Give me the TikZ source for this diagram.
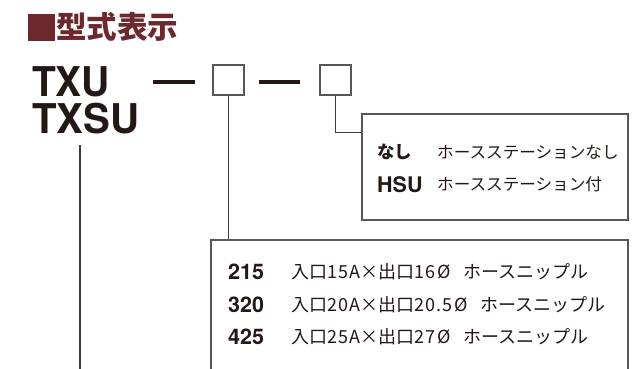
\documentclass[tikz,border=0pt]{standalone}
\usepackage{fontspec}
\usetikzlibrary{calc}
\newfontfamily\jp{Noto Sans CJK JP}
\newfontfamily\jpnum{Noto Sans CJK JP}[LetterSpace=6]
\newfontfamily\heros{TeX Gyre Heros}
\definecolor{titlered}{RGB}{108,40,45}
\definecolor{ink}{RGB}{35,24,21}
\definecolor{frame}{RGB}{90,85,86}
\newcommand{\nm}[1]{{\jpnum #1}}
\newcommand{\fw}[1]{\makebox[1em]{#1}}
\tikzset{
  sbox/.style={draw=frame, line width=1.3pt, minimum width=31pt, minimum height=30pt, inner sep=0pt},
  panel/.style={draw=frame, line width=1.2pt, inner sep=0pt},
  conn/.style={draw=ink!85!white, line width=1.5pt},
  dashbar/.style={draw=ink, line width=4pt},
  big/.style={anchor=base west, inner sep=0pt, text=ink, font=\heros\bfseries\fontsize{41}{37}\selectfont},
  code/.style={anchor=base west, inner sep=0pt, text=ink, font=\heros\bfseries\fontsize{21.5}{22}\selectfont},
  jcode/.style={anchor=base west, inner sep=0pt, text=ink, font=\jp\bfseries\fontsize{17.5}{18}\selectfont},
  desc/.style={anchor=base west, inner sep=0pt, text=ink, font=\jp\fontsize{16.6}{17}\selectfont},
  desc2/.style={anchor=base west, inner sep=0pt, text=ink, font=\jp\fontsize{18}{18}\selectfont},
}
\begin{document}
\begin{tikzpicture}[x=1pt,y=-1pt]
\useasboundingbox (0,0) rectangle (642,368);
\clip (0,0) rectangle (642,368);
% title
\fill[titlered] (28,14) rectangle (55,41);
\node[anchor=base west, inner sep=0pt, text=titlered, font=\jp\bfseries\fontsize{30.5}{30}\selectfont] (title) at (56,38) {型式表示};
% model names
\node[big] (models) at (32,96) {\begin{tabular}[t]{@{}l@{}}\smash{\scalebox{0.95}[1]{TXU}}\\\smash{\scalebox{0.98}[1]{TXSU}}\end{tabular}};
% dashes
\coordinate (d1a) at (153,82); \coordinate (d1b) at (195,82);
\coordinate (d2a) at (259,82); \coordinate (d2b) at (300,82);
\draw[dashbar] (d1a) -- (d1b);
\draw[dashbar] (d2a) -- (d2b);
% boxes
\node[sbox] (b1) at (228.5,80) {};
\node[sbox] (b2) at (335.5,80) {};
% panels
\node[panel, minimum width=266pt, minimum height=106pt] (p1) at (495,167) {};
\node[panel, minimum width=417pt, minimum height=150pt] (p2) at (419.5,315) {};
% connectors
\coordinate (ltop) at (80,145);
\coordinate (lbot) at (80,372);
\draw[conn] (ltop) -- (lbot);
\draw[conn] (b1.south) -- (b1.south |- p2.north);
\draw[conn] (b2.south) |- ($(p1.north west)+(0,19)$);
% panel 1 text
\node[jcode] (n1) at (377,158) {なし};
\node[desc] (t1) at (437,158) {ホースステーションなし};
\node[code] (n2) at (377,192) {HSU};
\node[desc] (t2) at (437,190) {ホースステーション付};
% panel 2 text
\node[code] (c1) at (228,279) {215};
\node[desc2] (e1) at (291,278) {入口\nm{15A}\fw{×}出口\nm{16}\fw{Ø}\hspace{0.55em}ホースニップル};
\node[code] (c2) at (228,312) {320};
\node[desc2] (e2) at (291,311) {入口\nm{20A}\fw{×}出口\nm{20.5}\fw{Ø}\hspace{0.55em}ホースニップル};
\node[code] (c3) at (228,344) {425};
\node[desc2] (e3) at (291,343) {入口\nm{25A}\fw{×}出口\nm{27}\fw{Ø}\hspace{0.55em}ホースニップル};
\end{tikzpicture}
\end{document}
